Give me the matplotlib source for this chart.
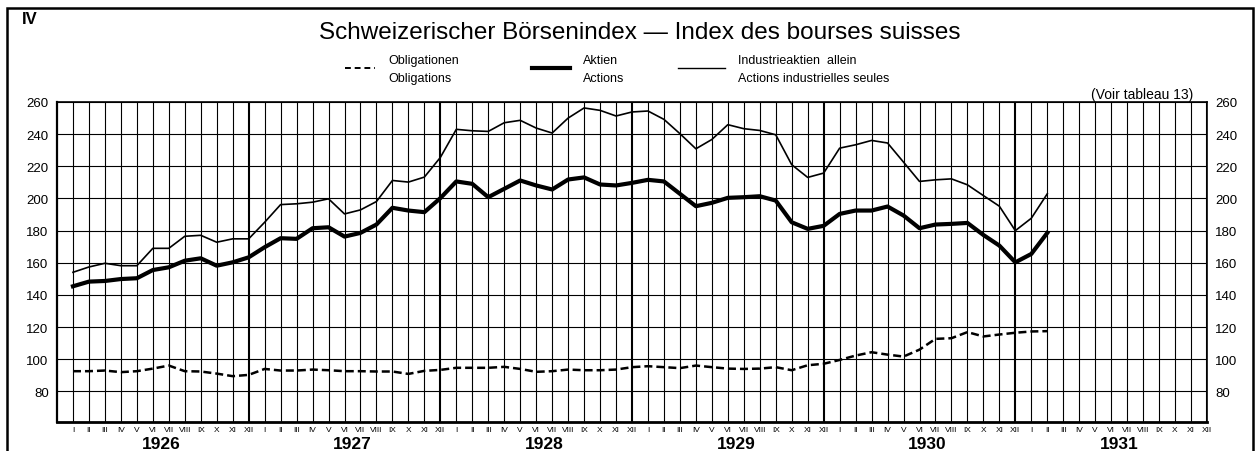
"""
Schweizerischer Boersenindex 1926-1931, monthly index values
(Obligationen, Aktien, Industrieaktien allein) redrawn from a scanned chart.
"""
import matplotlib
matplotlib.use("Agg")
import matplotlib.pyplot as plt
from matplotlib.transforms import blended_transform_factory
from matplotlib.patches import Rectangle

plt.rcParams["font.family"] = ["Liberation Sans", "DejaVu Sans"]

# --- data (Jan 1926 .. Feb 1931, monthly) ------------------------------
YEARS = [1926, 1927, 1928, 1929, 1930, 1931]
MONTHS = ["I", "II", "III", "IV", "V", "VI", "VII", "VIII", "IX", "X", "XI", "XII"]

obligationen = [
    92.6, 92.6, 93.0, 92.0, 92.6, 94.2, 96.1, 92.6, 92.4, 91.1, 89.5, 90.3,
    94.0, 93.0, 93.0, 93.6, 93.2, 92.6, 92.6, 92.4, 92.4, 90.9, 92.8, 93.4,
    94.7, 94.7, 94.7, 95.3, 94.0, 92.2, 92.6, 93.6, 93.2, 93.2, 93.6, 95.1,
    95.7, 95.1, 94.5, 96.1, 95.1, 94.2, 94.0, 94.2, 95.1, 93.2, 96.3, 97.2,
    99.6, 102.3, 104.4, 102.9, 101.7, 106.0, 112.7, 113.1, 116.9, 114.2, 115.4, 116.5,
    117.3, 117.5,
]
aktien = [
    145.4, 148.3, 148.7, 149.9, 150.4, 155.5, 157.2, 161.3, 162.8, 158.2, 160.3, 163.4,
    169.7, 175.3, 174.9, 181.5, 182.1, 176.3, 178.6, 183.8, 194.2, 192.5, 191.5, 200.2,
    210.6, 209.1, 200.8, 206.0, 211.2, 208.1, 205.6, 211.8, 213.1, 208.7, 208.1, 209.7,
    211.6, 210.6, 202.9, 195.2, 197.3, 200.4, 200.8, 201.4, 198.7, 185.2, 181.1, 183.0,
    190.4, 192.5, 192.5, 195.0, 189.4, 181.5, 183.8, 184.2, 184.8, 177.3, 170.7, 160.3,
    165.5, 178.6,
]
industrie = [
    154.1, 157.4, 159.7, 158.2, 158.2, 169.0, 169.0, 176.5, 177.1, 172.8, 174.9, 174.9,
    185.2, 196.2, 196.7, 197.7, 199.8, 190.4, 192.9, 198.1, 211.2, 210.2, 213.3, 225.5,
    243.0, 242.1, 241.7, 247.1, 248.6, 243.8, 240.7, 250.0, 256.3, 254.8, 251.3, 253.8,
    254.4, 249.2, 240.3, 230.9, 236.7, 245.9, 243.4, 242.3, 239.6, 221.0, 213.1, 215.8,
    231.3, 233.4, 236.1, 234.5, 222.6, 210.6, 211.6, 212.2, 208.5, 201.8, 195.2, 180.0,
    187.7, 202.9,
]
y_ticks = [80, 100, 120, 140, 160, 180, 200, 220, 240, 260]

W, H = 1259, 452
fig = plt.figure(figsize=(W / 100, H / 100), dpi=100)
ax = fig.add_axes([57 / W, 1 - 423 / H, (1207 - 57) / W, (423 - 103) / H])

n_months = 12 * len(YEARS)
x = list(range(len(aktien)))

# grid: one vertical line per month, heavier at each December
for i in range(n_months):
    lw = 1.5 if i % 12 == 11 else 0.8
    ax.axvline(i, color="black", lw=lw, zorder=1)
for v in y_ticks:
    ax.axhline(v, color="black", lw=0.8, zorder=1)

ax.plot(x, obligationen, color="black", lw=1.8, ls=(0, (3.2, 1.6)), zorder=3)
ax.plot(x, aktien, color="black", lw=3.0, solid_joinstyle="round", zorder=3)
ax.plot(x, industrie, color="black", lw=1.2, zorder=3)

ax.set_xlim(-1, n_months - 1)
ax.set_ylim(61, 260)
ax.set_yticks(y_ticks)
ax.set_yticklabels([str(v) for v in y_ticks], fontsize=9.5)
ax.tick_params(axis="y", length=0, pad=6, labelright=True)
ax.set_xticks(range(n_months))
ax.set_xticklabels(MONTHS * len(YEARS), fontsize=6)
ax.tick_params(axis="x", length=0, pad=3)
for s in ax.spines.values():
    s.set_linewidth(1.2)
ax.spines["bottom"].set_linewidth(2.0)
ax.spines["left"].set_linewidth(1.6)

# year labels under the month numerals
trans = blended_transform_factory(ax.transData, ax.transAxes)
for k, yr in enumerate(YEARS):
    ax.text(12 * k + 5.5, -0.066, str(yr), transform=trans, ha="center",
            va="center", fontsize=12.5, fontweight="bold")

# frame, title, legend
fig.patches.append(Rectangle((7 / W, -0.01), (1253 - 7) / W, 1 - 9 / H + 0.01,
                             transform=fig.transFigure, fill=False,
                             lw=1.8, ec="black"))
fig.text(22 / W, 1 - 19 / H, "IV", fontsize=12, fontweight="bold", va="center")
fig.text(640 / W, 1 - 33 / H,
         "Schweizerischer Börsenindex \u2014 Index des bourses suisses",
         fontsize=17.5, ha="center", va="center")

leg_items = [
    ((345, 375), dict(lw=1.4, ls=(0, (3, 2))), 388, "Obligationen", "Obligations"),
    ((532, 570), dict(lw=3.0), 583, "Aktien", "Actions"),
    ((678, 725), dict(lw=1.0), 738, "Industrieaktien  allein",
     "Actions industrielles seules"),
]
for (x0, x1), style, tx, de, fr in leg_items:
    fig.add_artist(plt.Line2D([x0 / W, x1 / W], [1 - 69 / H, 1 - 69 / H],
                              color="black", transform=fig.transFigure, **style))
    fig.text(tx / W, 1 - 61 / H, de, fontsize=9, va="center")
    fig.text(tx / W, 1 - 79 / H, fr, fontsize=9, va="center")

fig.text(1193 / W, 1 - 95 / H, "(Voir tableau 13)", fontsize=10, ha="right",
         va="center")

fig.savefig("out.png", dpi=100)
